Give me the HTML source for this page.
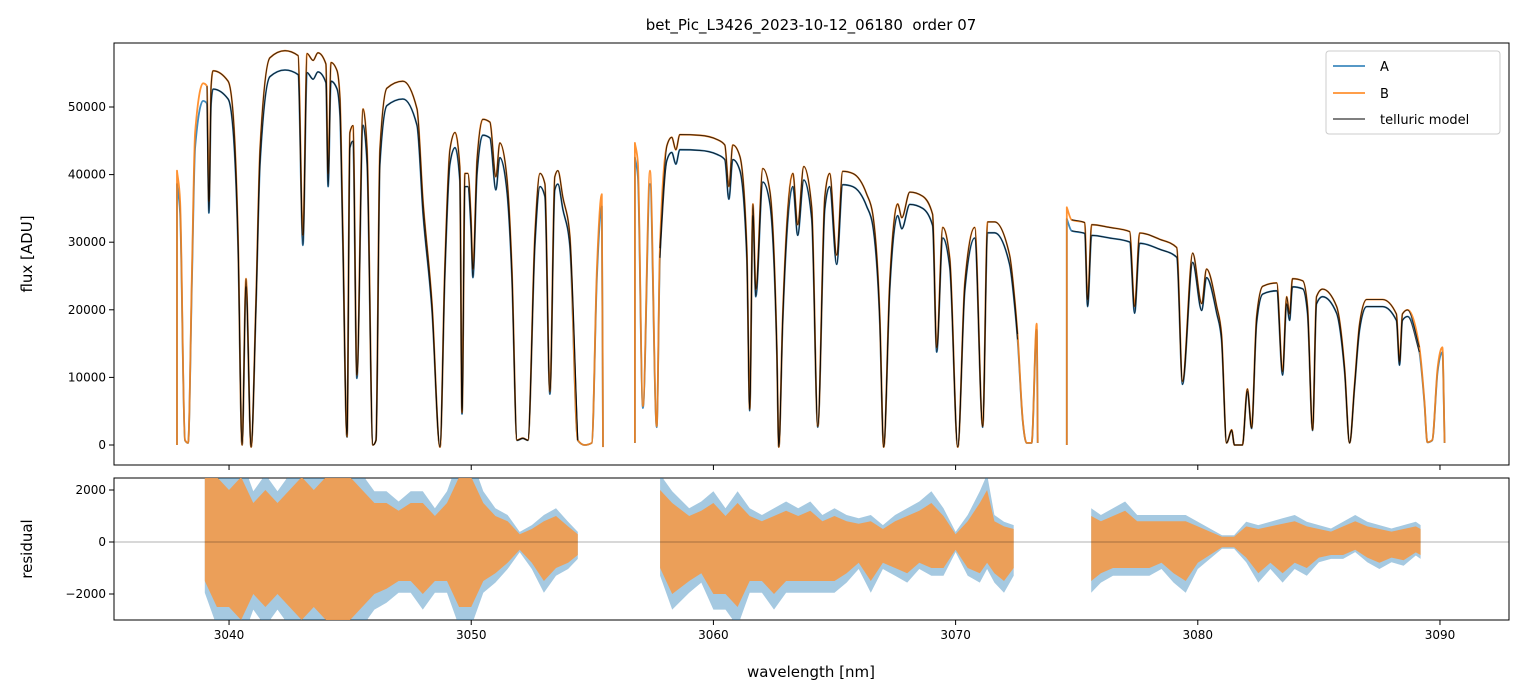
<!DOCTYPE html>
<html><head><meta charset="utf-8">
<style>
body{margin:0;background:#fff;}
svg{display:block;font-family:"DejaVu Sans","Liberation Sans",sans-serif;}
</style></head>
<body>
<svg id="fig" width="1523" height="696" viewBox="0 0 1523 696" xmlns="http://www.w3.org/2000/svg">
<rect width="1523" height="696" fill="#fff"/>
<text x="811" y="30" text-anchor="middle" font-size="15" style="white-space:pre">bet_Pic_L3426_2023-10-12_06180  order 07</text>
<g id="topPanel"></g>
<g id="botPanel"></g>
<text x="811" y="677" text-anchor="middle" font-size="15">wavelength [nm]</text>
<text transform="translate(32,254) rotate(-90)" text-anchor="middle" font-size="15">flux [ADU]</text>
<text transform="translate(32,549) rotate(-90)" text-anchor="middle" font-size="15">residual</text>
<g>
<rect x="1326" y="51" width="174" height="83" rx="3" fill="#fff" fill-opacity="0.8" stroke="#ccc"/>
<line x1="1333" y1="66" x2="1365" y2="66" stroke="#1f77b4" stroke-width="1.5"/>
<text x="1380" y="71" font-size="13">A</text>
<line x1="1333" y1="93" x2="1365" y2="93" stroke="#ff7f0e" stroke-width="1.5"/>
<text x="1380" y="98" font-size="13">B</text>
<line x1="1333" y1="119" x2="1365" y2="119" stroke="#555" stroke-width="1.5"/>
<text x="1380" y="124" font-size="13">telluric model</text>
</g>
</svg>
<script>
// ---- data ----
const seg1Wl=[3037.85,3037.85,3037.98,3038.18,3038.31,3038.47,3038.60,3038.93,3039.09,3039.17,3039.26,3039.34,3039.96,3040.17,3040.37,3040.54,3040.70,3040.91,3041.11,3041.28,3041.69,3042.31,3042.85,3043.05,3043.22,3043.47,3043.67,3044.00,3044.09,3044.21,3044.46,3044.58,3044.70,3044.87,3044.99,3045.12,3045.28,3045.53,3045.70,3045.94,3046.07,3046.23,3046.52,3047.18,3047.76,3048.01,3048.38,3048.71,3048.91,3049.12,3049.33,3049.53,3049.62,3049.74,3049.86,3049.99,3050.07,3050.24,3050.48,3050.77,3051.02,3051.18,3051.47,3051.68,3051.89,3052.13,3052.34,3052.63,3052.84,3053.04,3053.25,3053.45,3053.58,3053.78,3054.07,3054.40,3054.69,3054.98,3055.19,3055.39,3055.44];
const seg1Flux=[0,39600,35200,700,300,25400,45100,52200,51800,35200,51800,54000,52500,47600,30300,0,24000,-300,20400,42600,55900,56900,56200,30300,56500,55500,56600,55000,39200,55200,54000,50000,30300,1200,45100,46100,10100,48500,42600,0,700,42600,51500,52500,48500,35200,20400,-300,25400,42600,45100,40200,4700,39200,39200,32800,25400,41100,47000,46600,38700,43600,38700,25400,700,1000,700,30300,39200,37700,7700,38700,39600,35800,30300,700,0,300,25400,36200,-300];
const seg2Wl=[3056.76,3056.76,3056.88,3057.09,3057.38,3057.66,3057.79,3058.08,3058.28,3058.45,3058.61,3059.44,3060.14,3060.47,3060.64,3060.80,3061.09,3061.38,3061.50,3061.63,3061.75,3062.04,3062.33,3062.62,3062.70,3062.86,3063.28,3063.48,3063.73,3064.06,3064.31,3064.60,3064.80,3065.09,3065.34,3065.75,3066.33,3066.58,3066.87,3067.03,3067.28,3067.61,3067.78,3068.11,3068.64,3069.05,3069.22,3069.47,3069.76,3070.09,3070.38,3070.79,3071.12,3071.32,3071.61,3072.23,3072.44,3072.56,3072.77,3072.93,3073.14,3073.35,3073.39];
const seg2Flux=[300,43600,40700,5600,39600,2700,28400,43200,44400,42600,44800,44700,44100,43300,37300,43300,41700,28400,5200,34800,22500,39900,36700,13600,-300,18500,39200,31800,40200,34300,2700,35800,39200,27400,39500,39200,36200,33300,18500,-300,23400,34800,32800,36500,35900,33300,14100,31400,26900,-300,23400,31400,2700,32200,32200,27400,21000,16000,3700,300,300,17500,300];
const seg3Wl=[3074.59,3074.59,3074.79,3075.33,3075.45,3075.62,3076.36,3077.19,3077.39,3077.60,3078.42,3079.13,3079.37,3079.79,3080.16,3080.36,3080.78,3080.98,3081.19,3081.40,3081.51,3081.84,3082.05,3082.22,3082.43,3082.68,3083.26,3083.50,3083.67,3083.79,3083.91,3084.33,3084.53,3084.74,3084.90,3085.15,3085.73,3086.06,3086.27,3086.47,3086.68,3086.97,3087.63,3088.20,3088.33,3088.45,3088.66,3089.15,3089.36,3089.48,3089.68,3089.90,3090.10,3090.19];
const seg3Flux=[0,34300,32500,32100,21000,31800,31400,30800,20000,30600,29700,28500,9200,27700,20400,25400,20000,16000,300,2200,0,0,8100,2500,18500,22900,23400,10600,21400,18900,24000,23700,20000,2200,21400,22500,20000,11100,300,8600,17500,21000,21000,18900,12100,18900,19500,14100,6200,400,700,11100,14100,300];
const modelStart=[3039.0,3057.7,3074.65];
const modelEnd=[3054.6,3072.6,3089.3];
const gainA=0.975, gainB=1.025;
const resWl1=[3039.0,3039.5,3040.0,3040.5,3041.0,3041.5,3042.0,3042.5,3043.0,3043.5,3044.0,3044.5,3045.0,3045.5,3046.0,3046.5,3047.0,3047.5,3048.0,3048.5,3049.0,3049.5,3050.0,3050.5,3051.0,3051.5,3052.0,3052.5,3053.0,3053.5,3054.0,3054.4];
const resHi1=[2500,2500,2000,2500,1500,2000,1500,2000,2500,2000,2500,2500,2500,2000,1500,1500,1200,1500,1500,1000,1500,2500,2500,1500,1000,800,300,500,800,1000,600,300];
const resLo1=[-1500,-2500,-2500,-3000,-2000,-2500,-2000,-2500,-3000,-2500,-3000,-3000,-3000,-2500,-2000,-1800,-1500,-1500,-2000,-1500,-1500,-2500,-2500,-1500,-1200,-800,-300,-800,-1500,-1000,-800,-500];
const resWl2=[3057.8,3058.3,3059.0,3059.5,3060.0,3060.5,3061.0,3061.5,3062.0,3062.5,3063.0,3063.5,3064.0,3064.5,3065.0,3065.5,3066.0,3066.5,3067.0,3067.5,3068.0,3068.5,3069.0,3069.5,3070.0,3070.5,3071.0,3071.3,3071.6,3072.0,3072.4];
const resHi2=[2000,1500,1000,1200,1500,1000,1500,1000,800,1000,1200,1000,1200,800,1000,800,700,800,500,800,1000,1200,1500,1000,300,800,1500,2000,800,600,500];
const resLo2=[-1000,-2000,-1500,-1200,-2000,-2000,-2500,-1500,-1500,-2000,-1500,-1500,-1500,-1500,-1500,-1200,-800,-1500,-800,-1000,-1200,-800,-1000,-1000,-300,-1000,-1200,-800,-1200,-1500,-1000];
const resWl3=[3075.6,3076.0,3076.5,3077.0,3077.5,3078.0,3078.5,3079.0,3079.5,3080.0,3080.5,3081.0,3081.5,3082.0,3082.5,3083.0,3083.5,3084.0,3084.5,3085.0,3085.5,3086.0,3086.5,3087.0,3087.5,3088.0,3088.5,3089.0,3089.2];
const resHi3=[1000,800,1000,1200,800,800,800,800,800,600,400,200,200,600,500,600,700,800,600,500,400,600,800,600,500,400,500,600,500];
const resLo3=[-1500,-1200,-1000,-1000,-1000,-1000,-800,-1200,-1500,-800,-500,-200,-200,-600,-1200,-800,-1200,-800,-1000,-600,-500,-500,-300,-600,-800,-600,-700,-400,-500];
const resAScale=1.3;
const xTicks=[3040,3050,3060,3070,3080,3090];
const yTicksTop=[0,10000,20000,30000,40000,50000];
const yTicksBot=[-2000,0,2000];

// ---- axes ----
const L=114,R=1509,T1=43,B1=465,T2=478,B2=620;
const X0=3035.25,X1=3092.85;
const sx=w=>L+(w-X0)/(X1-X0)*(R-L);
const Y1min=-2959,Y1max=59467, Y2min=-3000,Y2max=2462;
const sy1=v=>B1-(v-Y1min)/(Y1max-Y1min)*(B1-T1);
const sy2=v=>B2-(v-Y2min)/(Y2max-Y2min)*(B2-T2);
const NS='http://www.w3.org/2000/svg';
function mk(tag,attrs,parent){const e=document.createElementNS(NS,tag);for(const k in attrs)e.setAttribute(k,attrs[k]);parent.appendChild(e);return e;}
const topG=document.getElementById('topPanel'), botG=document.getElementById('botPanel');
const defs=mk('defs',{},topG);
const c1=mk('clipPath',{id:'c1'},defs);mk('rect',{x:L,y:T1,width:R-L,height:B1-T1},c1);
const c2=mk('clipPath',{id:'c2'},defs);mk('rect',{x:L,y:T2,width:R-L,height:B2-T2},c2);
const g1=mk('g',{'clip-path':'url(#c1)'},topG);
const g2=mk('g',{'clip-path':'url(#c2)'},botG);

function monoRun(P){
  const n=P.length; if(n<2) return '';
  const h=[],s=[];
  for(let i=0;i<n-1;i++){h.push(P[i+1][0]-P[i][0]);s.push((P[i+1][1]-P[i][1])/h[i]);}
  const m=new Array(n);
  m[0]=s[0]; m[n-1]=s[n-2];
  for(let i=1;i<n-1;i++){
    const s0=s[i-1],s1=s[i];
    if(s0*s1<=0){m[i]=0;continue;}
    const p=(s0*h[i]+s1*h[i-1])/(h[i-1]+h[i]);
    m[i]=Math.sign(s0)*Math.min(Math.abs(s0),Math.abs(s1),0.5*Math.abs(p))*2;
    if(Math.abs(m[i])>Math.abs(p)) m[i]=p;
  }
  let d='';
  for(let i=0;i<n-1;i++){
    const x0=P[i][0],y0=P[i][1],x1=P[i+1][0],y1=P[i+1][1],hh=h[i];
    d+=` C${(x0+hh/3).toFixed(1)},${(y0+m[i]*hh/3).toFixed(1)} ${(x1-hh/3).toFixed(1)},${(y1-m[i+1]*hh/3).toFixed(1)} ${x1.toFixed(1)},${y1.toFixed(1)}`;
  }
  return d;
}
function smoothPath(P){
  if(!P.length) return '';
  let d=`M${P[0][0].toFixed(1)},${P[0][1].toFixed(1)}`;
  let run=[P[0]];
  for(let i=1;i<P.length;i++){
    if(P[i][0]-P[i-1][0]<0.3){
      d+=monoRun(run);
      d+=` L${P[i][0].toFixed(1)},${P[i][1].toFixed(1)}`;
      run=[P[i]];
    } else run.push(P[i]);
  }
  d+=monoRun(run);
  return d;
}
function pts(wl,fl,gain,a,b){const p=[];for(let i=0;i<wl.length;i++){if(a!==undefined&&(wl[i]<a||wl[i]>b))continue;p.push([sx(wl[i]),sy1(fl[i]*gain)]);}return p;}

const segs=[[seg1Wl,seg1Flux],[seg2Wl,seg2Flux],[seg3Wl,seg3Flux]];
segs.forEach((s,i)=>{
  const a=mk('path',{d:smoothPath(pts(s[0],s[1],gainA)),fill:'none',stroke:'#1f77b4','stroke-width':1.8,'stroke-linejoin':'round',opacity:0.85},g1);
  
  
});
segs.forEach((s,i)=>{
  const b=mk('path',{d:smoothPath(pts(s[0],s[1],gainB)),fill:'none',stroke:'#ff7f0e','stroke-width':1.8,'stroke-linejoin':'round',opacity:0.85},g1);
  
  
});
segs.forEach((s,i)=>{
  [gainA,gainB].forEach(gn=>{
    const m=mk('path',{d:smoothPath(pts(s[0],s[1],gn,modelStart[i],modelEnd[i])),fill:'none',stroke:'#000','stroke-width':1.1,'stroke-linejoin':'round',opacity:0.75},g1);
    
    
  });
});

const res=[[resWl1,resHi1,resLo1],[resWl2,resHi2,resLo2],[resWl3,resHi3,resLo3]];
function band(wl,hi,lo,sc){const p=[];for(let i=0;i<wl.length;i++)p.push(sx(wl[i]).toFixed(1)+','+sy2(hi[i]*sc).toFixed(1));for(let i=wl.length-1;i>=0;i--)p.push(sx(wl[i]).toFixed(1)+','+sy2(lo[i]*sc).toFixed(1));return p.join(' ');}
res.forEach(r=>{
  const a=mk('polygon',{points:band(r[0],r[1],r[2],resAScale),fill:'#1f77b4',opacity:0.4},g2);
  
  
});
res.forEach(r=>{
  const b=mk('polygon',{points:band(r[0],r[1],r[2],1),fill:'#f39a4a',opacity:0.9},g2);
  
  
});
const zl=mk('line',{x1:L,x2:R,y1:sy2(0),y2:sy2(0),stroke:'#000','stroke-width':0.6,opacity:0.6},g2);



[[T1,B1],[T2,B2]].forEach(([t,b])=>{
  const f=mk('rect',{x:L,y:t,width:R-L,height:b-t,fill:'none',stroke:'#000','stroke-width':1},topG);
  
  
});
xTicks.forEach(v=>{
  mk('line',{x1:sx(v),x2:sx(v),y1:B1,y2:B1+5,stroke:'#000'},topG);
  mk('line',{x1:sx(v),x2:sx(v),y1:B2,y2:B2+5,stroke:'#000'},botG);
  const t=mk('text',{x:sx(v),y:B2+19,'text-anchor':'middle','font-size':12},botG);
  t.textContent=v;
  
  
});
yTicksTop.forEach(v=>{
  mk('line',{x1:L-5,x2:L,y1:sy1(v),y2:sy1(v),stroke:'#000'},topG);
  const t=mk('text',{x:L-8,y:sy1(v)+4,'text-anchor':'end','font-size':12},topG);
  t.textContent=v;
  
  
});
yTicksBot.forEach(v=>{
  mk('line',{x1:L-5,x2:L,y1:sy2(v),y2:sy2(v),stroke:'#000'},botG);
  const t=mk('text',{x:L-8,y:sy2(v)+4,'text-anchor':'end','font-size':12},botG);
  t.textContent=String(v).replace('-','\u2212');
  
  
});
</script>
</body></html>
